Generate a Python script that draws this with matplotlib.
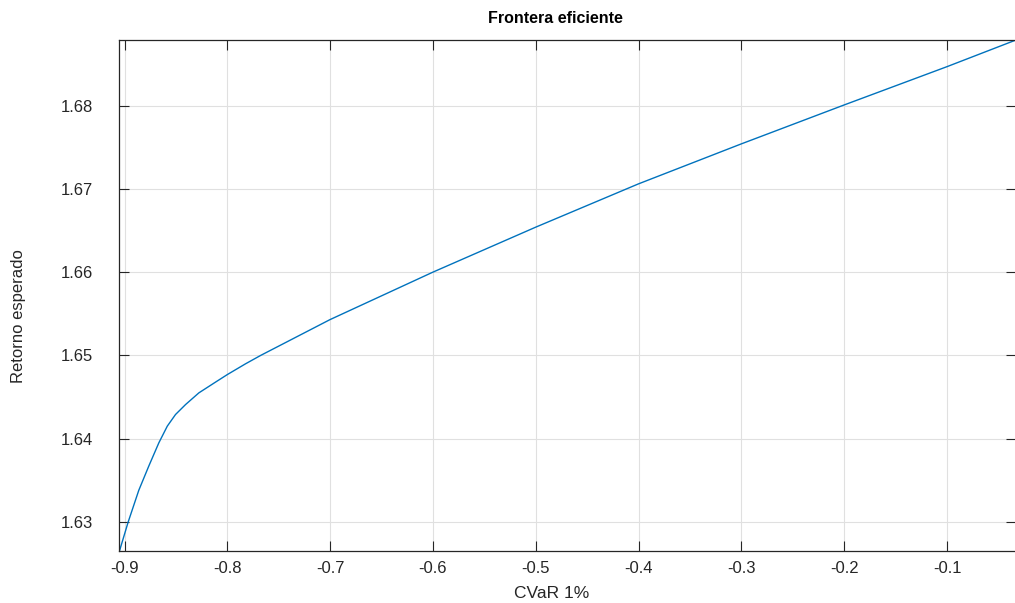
import matplotlib
matplotlib.use("Agg")
import matplotlib.pyplot as plt

# frontier points
cvar = [-0.9049, -0.8964, -0.8861, -0.8764, -0.8666, -0.8584, -0.8504, -0.8406,
        -0.8277, -0.8114, -0.8000, -0.7822, -0.7676, -0.7002, -0.6002, -0.5003,
        -0.4004, -0.3005, -0.2000, -0.1000, -0.0330]
retorno = [1.6265, 1.6300, 1.6338, 1.6367, 1.6395, 1.6415, 1.6429, 1.6441,
           1.6455, 1.6468, 1.6477, 1.6490, 1.6500, 1.6543, 1.6600, 1.6654,
           1.6706, 1.6754, 1.6801, 1.6847, 1.6879]

xticks = [-0.9, -0.8, -0.7, -0.6, -0.5, -0.4, -0.3, -0.2, -0.1]
yticks = [1.63, 1.64, 1.65, 1.66, 1.67, 1.68]

plt.rcParams['font.family'] = ['Liberation Sans', 'DejaVu Sans']

fig = plt.figure(figsize=(10.15, 6.03), dpi=100)
ax = fig.add_axes([0.1177, 0.0862, 0.8833, 0.8475])

ax.plot(cvar, retorno, color='#0072BD', linewidth=1.0)

ax.set_xlim(cvar[0], cvar[-1])
ax.set_ylim(retorno[0], retorno[-1])
ax.set_xticks(xticks)
ax.set_xticklabels([f'{t:g}' for t in xticks])
ax.set_yticks(yticks)
ax.set_yticklabels([f'{t:g}' for t in yticks])

ax.grid(True, color='#e0e0e0', linewidth=0.8)
ax.set_axisbelow(True)
ax.tick_params(direction='in', length=7, width=0.8, colors='#262626',
               top=True, right=True, labelsize=12)
ax.tick_params(axis='x', pad=7)
ax.tick_params(axis='y', pad=19)
for s in ax.spines.values():
    s.set_color('#262626')
    s.set_linewidth(0.9)

ax.set_title('Frontera eficiente', fontweight='bold', fontsize=11.5,
             x=0.486, y=1.0, pad=12)
ax.set_xlabel('CVaR 1%', fontsize=12.5, color='#262626')
ax.xaxis.set_label_coords(0.482, -0.069)
ax.set_ylabel('Retorno esperado', fontsize=12, color='#262626')
ax.yaxis.set_label_coords(-0.104, 0.46)

fig.savefig('out.png', dpi=100)
